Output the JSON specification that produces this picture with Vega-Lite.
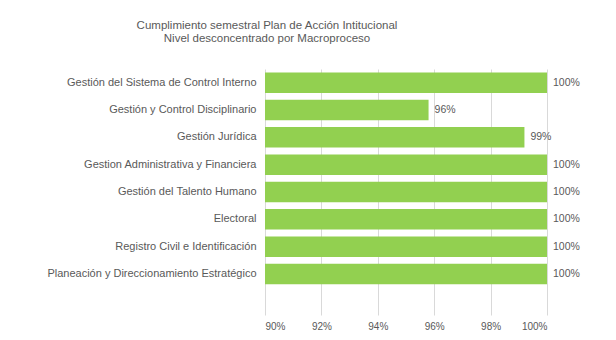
{
  "$schema": "https://vega.github.io/schema/vega-lite/v6.json",
  "autosize": "none",
  "width": 282,
  "height": 246,
  "padding": {"left": 265, "top": 69, "right": 69, "bottom": 25},
  "background": "white",
  "title": {
    "text": ["Cumplimiento semestral Plan de Acción Intitucional", "Nivel desconcentrado por Macroproceso"],
    "anchor": "middle",
    "frame": "group",
    "dx": -139,
    "offset": 25,
    "font": "Liberation Sans",
    "fontSize": 11.5,
    "fontWeight": "normal",
    "color": "#595959",
    "lineHeight": 13
  },
  "data": {
    "values": [
      {"proceso": "Gestión del Sistema de Control Interno", "valor": 1.0},
      {"proceso": "Gestión y Control Disciplinario", "valor": 0.958},
      {"proceso": "Gestión Jurídica", "valor": 0.992},
      {"proceso": "Gestion Administrativa y Financiera", "valor": 1.0},
      {"proceso": "Gestión del Talento Humano", "valor": 1.0},
      {"proceso": "Electoral", "valor": 1.0},
      {"proceso": "Registro Civil e Identificación", "valor": 1.0},
      {"proceso": "Planeación y Direccionamiento Estratégico", "valor": 1.0}
    ]
  },
  "encoding": {
    "y": {
      "field": "proceso",
      "type": "nominal",
      "sort": null,
      "scale": {
        "domain": ["Gestión del Sistema de Control Interno", "Gestión y Control Disciplinario", "Gestión Jurídica", "Gestion Administrativa y Financiera", "Gestión del Talento Humano", "Electoral", "Registro Civil e Identificación", "Planeación y Direccionamiento Estratégico", " "],
        "paddingInner": 0.25,
        "paddingOuter": 0.125
      },
      "axis": {
        "title": null,
        "domain": false,
        "ticks": false,
        "grid": false,
        "labelPadding": 9,
        "labelFont": "Liberation Sans",
        "labelFontSize": 11,
        "labelColor": "#595959",
        "labelLimit": 300
      }
    },
    "x": {
      "field": "valor",
      "type": "quantitative",
      "scale": {"domain": [0.9, 1.0], "clamp": true, "nice": false, "zero": false},
      "axis": {
        "title": null,
        "format": ".0%",
        "values": [0.9, 0.92, 0.94, 0.96, 0.98, 1.0],
        "domain": false,
        "ticks": false,
        "grid": true,
        "gridColor": "#d9d9d9",
        "gridWidth": 1,
        "labelPadding": 6,
        "labelFont": "Liberation Sans",
        "labelFontSize": 10,
        "labelColor": "#595959"
      }
    }
  },
  "layer": [
    {"mark": {"type": "bar", "color": "#92d050"}},
    {
      "mark": {"type": "text", "align": "left", "dx": 6, "font": "Liberation Sans", "fontSize": 10.5, "color": "#595959"},
      "encoding": {"text": {"field": "valor", "type": "quantitative", "format": ".0%"}}
    }
  ],
  "config": {"view": {"stroke": null}}
}
